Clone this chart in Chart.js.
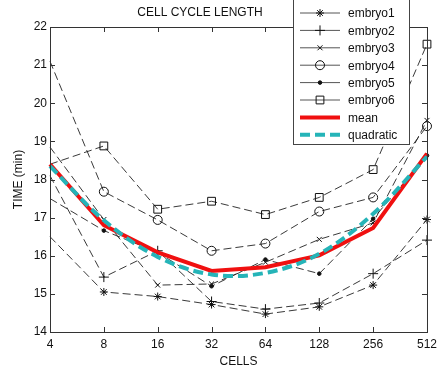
<!DOCTYPE html>
<html>
<head>
<meta charset="utf-8">
<script src="https://cdn.jsdelivr.net/npm/chart.js@4.4.1/dist/chart.umd.min.js"></script>
<style>
  html, body { margin: 0; padding: 0; background: #fff; }
  #wrap { width: 442px; height: 369px; }
</style>
</head>
<body>
<div id="wrap"><canvas id="myChart" width="442" height="369"></canvas></div>
<script>
// number of cells (log2 spaced) and cycle length in minutes
var cells = ['4', '8', '16', '32', '64', '128', '256', '512'];
var embryo1 = [16.5, 15.05, 14.93, 14.72, 14.47, 14.66, 15.23, 16.95];
var embryo2 = [18.1, 15.44, 16.13, 14.8, 14.6, 14.76, 15.53, 16.41];
var embryo3 = [18.85, 16.95, 15.23, 15.26, 15.83, 16.43, 16.86, 19.55];
var embryo4 = [21.1, 17.68, 16.94, 16.13, 16.32, 17.16, 17.53, 19.4];
var embryo5 = [17.5, 16.66, 16.09, 15.2, 15.9, 15.53, 16.97, 18.63];
var embryo6 = [18.4, 18.88, 17.22, 17.43, 17.08, 17.53, 18.26, 21.55];
var meanTime = [18.4, 16.8, 16.09, 15.6, 15.7, 16.01, 16.73, 18.68];
var quadratic = [18.35, 16.93, 15.97, 15.51, 15.55, 16.05, 17.1, 18.6];
var timeTicks = [14, 15, 16, 17, 18, 19, 20, 21, 22];

var FONT = { family: 'Liberation Sans, Arial, sans-serif', size: 12 };

function embryo(label, data, style, radius, fill) {
    return {
        label: label,
        data: data,
        borderColor: '#222',
        borderWidth: 0.9,
        borderDash: [8, 4],
        pointStyle: style,
        markerRadius: radius,
        // no marker on the first (4-cell) point, as in the original figure
        pointRadius: data.map(function (v, i) { return i === 0 ? 0 : radius; }),
        pointBorderColor: '#111',
        pointBorderWidth: 1,
        pointBackgroundColor: fill,
        tension: 0,
        order: 3
    };
}

// frame with inward ticks, title and the legend box
var framePlugin = {
    id: 'frame',
    afterDraw: function (chart) {
        var c = chart.ctx, a = chart.chartArea;
        var xs = chart.scales.x, ys = chart.scales.y;
        c.save();
        c.strokeStyle = '#333';
        c.lineWidth = 1;
        c.strokeRect(a.left + 0.5, a.top + 0.5, a.right - a.left, a.bottom - a.top);
        c.beginPath();
        xs.ticks.forEach(function (t, i) {
            var px = Math.round(xs.getPixelForTick(i)) + 0.5;
            c.moveTo(px, a.bottom); c.lineTo(px, a.bottom - 5);
            c.moveTo(px, a.top); c.lineTo(px, a.top + 5);
        });
        ys.ticks.forEach(function (t, i) {
            var py = Math.round(ys.getPixelForTick(i)) + 0.5;
            c.moveTo(a.left, py); c.lineTo(a.left + 5, py);
            c.moveTo(a.right, py); c.lineTo(a.right - 5, py);
        });
        c.stroke();

        // title
        c.fillStyle = '#111';
        c.font = '12px ' + FONT.family;
        c.textAlign = 'center';
        c.textBaseline = 'middle';
        c.fillText('CELL CYCLE LENGTH', 200, 13);

        // legend
        var bx = 293, by = 0, bw = 116, bh = 145;
        c.fillStyle = '#fff';
        c.fillRect(bx, by, bw, bh);
        c.strokeStyle = '#444';
        c.strokeRect(bx + 0.5, by - 0.5, bw, bh);
        chart.data.datasets.forEach(function (ds, i) {
            var y = 13 + i * 17.4;
            var isEmbryo = ds.label.indexOf('embryo') === 0;
            c.save();
            c.strokeStyle = isEmbryo ? '#555' : ds.borderColor;
            c.lineWidth = isEmbryo ? 1 : ds.borderWidth;
            c.setLineDash(ds.label === 'quadratic' ? [10, 5] : []);
            c.beginPath();
            c.moveTo(300, y); c.lineTo(340, y);
            c.stroke();
            c.restore();
            if (isEmbryo) {
                c.save();
                c.strokeStyle = '#111';
                c.fillStyle = ds.pointBackgroundColor;
                c.lineWidth = 1;
                Chart.helpers.drawPoint(c, { pointStyle: ds.pointStyle, radius: ds.markerRadius, rotation: 0, borderWidth: 1 }, 320, y);
                c.restore();
            }
            c.fillStyle = '#111';
            c.textAlign = 'left';
            c.fillText(ds.label, 348, y + 1);
        });
        c.restore();
    }
};

var ctx = document.getElementById('myChart').getContext('2d');
var myChart = new Chart(ctx, {
    type: 'line',
    data: {
        labels: cells,
        datasets: [
            embryo('embryo1', embryo1, 'star', 4, '#111'),
            embryo('embryo2', embryo2, 'cross', 5, '#111'),
            embryo('embryo3', embryo3, 'crossRot', 3.5, '#111'),
            embryo('embryo4', embryo4, 'circle', 4.5, 'rgba(255,255,255,0)'),
            embryo('embryo5', embryo5, 'circle', 1.8, '#111'),
            embryo('embryo6', embryo6, 'rect', 5.5, 'rgba(255,255,255,0)'),
            {
                label: 'mean',
                data: meanTime,
                borderColor: '#f01010',
                borderWidth: 4,
                pointRadius: 0,
                tension: 0,
                order: 2
            },
            {
                label: 'quadratic',
                data: quadratic,
                borderColor: '#25b4b8',
                borderWidth: 4,
                borderDash: [10, 5],
                pointRadius: 0,
                tension: 0.35,
                order: 1
            }
        ]
    },
    options: {
        responsive: false,
        animation: false,
        layout: { padding: { top: 27, right: 8, left: 0, bottom: 0 } },
        scales: {
            x: {
                type: 'category',
                offset: false,
                grid: { display: false, drawTicks: false },
                border: { display: false },
                ticks: { color: '#111', font: FONT, padding: 5, autoSkip: false, maxRotation: 0 },
                title: { display: true, text: 'CELLS', color: '#111', font: FONT, padding: 0 },
                afterFit: function (s) { s.height = 37; }
            },
            y: {
                min: 14,
                max: 22,
                grid: { display: false, drawTicks: false },
                border: { display: false },
                afterBuildTicks: function (s) {
                    s.ticks = timeTicks.map(function (v) { return { value: v }; });
                },
                ticks: { color: '#111', font: FONT, padding: 3 },
                title: { display: true, text: 'TIME (min)', color: '#111', font: FONT, padding: { top: 11, bottom: 0 } },
                afterFit: function (s) { s.width = 50; }
            }
        },
        plugins: {
            legend: { display: false },
            tooltip: { enabled: false }
        }
    },
    plugins: [framePlugin]
});
</script>
</body>
</html>
